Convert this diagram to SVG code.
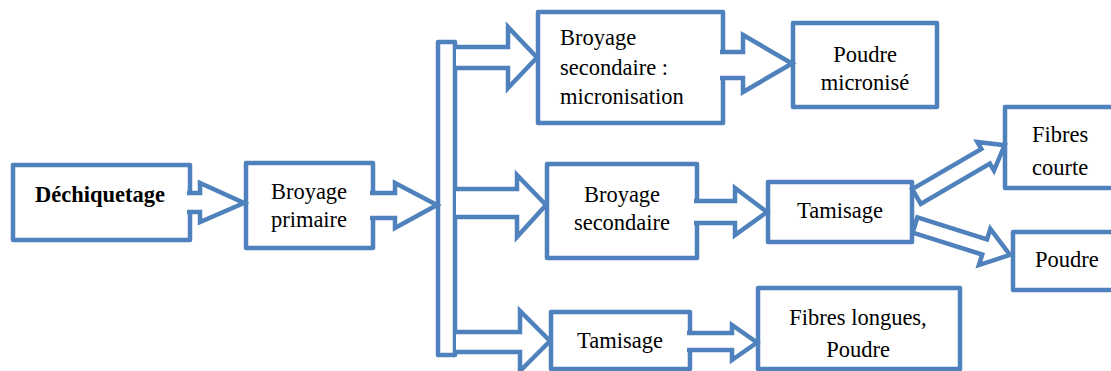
<svg xmlns="http://www.w3.org/2000/svg" width="1111" height="371" viewBox="0 0 1111 371">
<style>
.box{fill:#fff;stroke:#4f81bd;stroke-width:4.5;stroke-linejoin:round}
.arr{fill:#fff;stroke:#4f81bd;stroke-width:4.5;stroke-linejoin:miter}
.lbl{font-family:'Liberation Serif','Times New Roman',serif;font-size:22.5px;fill:#000}
</style>
<rect width="1111" height="371" fill="#fff"/>
<g id="nodes">
<g id="n1"><rect class="box" x="13" y="165" width="177" height="75"/></g>
<g id="n2"><rect class="box" x="246" y="163" width="127" height="85"/></g>
<g id="bar"><rect class="box" x="438" y="42" width="17" height="313"/></g>
<g id="n3"><rect class="box" x="538" y="12" width="185" height="111"/></g>
<g id="n4"><rect class="box" x="793" y="23" width="144" height="84"/></g>
<g id="n5"><rect class="box" x="547" y="164" width="150" height="94"/></g>
<g id="n6"><rect class="box" x="768" y="182" width="144" height="60"/></g>
<g id="n7"><rect class="box" x="1005" y="107" width="120" height="81"/></g>
<g id="n8"><rect class="box" x="1013" y="232" width="112" height="58"/></g>
<g id="n9"><rect class="box" x="551" y="312" width="139" height="57"/></g>
<g id="n10"><rect class="box" x="758" y="288" width="202" height="81"/></g>
</g>
<g id="connectors">
<path class="arr" d="M187,193 L200,193 L200,183 L244,203 L200,222 L200,212 L187,212"/>
<path class="arr" d="M370,193 L395,193 L395,183 L437,205 L395,228 L395,218 L370,218"/>
<path class="arr" d="M456,47 L508,47 L508,27 L537,57.5 L508,88 L508,68 L456,68"/>
<path class="arr" d="M720,52 L743,52 L743,35 L792,63.5 L743,92 L743,78 L720,78"/>
<path class="arr" d="M456,189 L517,189 L517,175 L546,205 L517,237 L517,217 L456,217"/>
<path class="arr" d="M694,201 L735,201 L735,188 L767,212 L735,235 L735,223 L694,223"/>
<path class="arr" d="M456,332 L520,332 L520,311 L550,341 L520,371 L520,352 L456,352"/>
<path class="arr" d="M687,333 L732,333 L732,325 L757,342.5 L732,360 L732,350 L687,350"/>
<polygon class="arr" transform="translate(916.5,196.5) rotate(-30.2)" points="0,-8.5 80,-8.5 80,-16.5 102,0 80,16.5 80,8.5 0,8.5"/>
<polygon class="arr" transform="translate(915,225) rotate(17.5)" points="0,-8 73,-8 73,-19 99.6,0 73,19 73,8 0,8"/>
</g>
<g id="labels" font-family="Liberation Serif, Times New Roman, serif" font-size="22.5">
<text class="lbl" x="100" y="202" text-anchor="middle" font-weight="bold">Déchiquetage</text>
<text class="lbl" x="309" y="199" text-anchor="middle">Broyage</text>
<text class="lbl" x="309" y="227" text-anchor="middle">primaire</text>
<text class="lbl" x="560" y="45">Broyage</text>
<text class="lbl" x="560" y="75">secondaire :</text>
<text class="lbl" x="560" y="104">micronisation</text>
<text class="lbl" x="865" y="62" text-anchor="middle">Poudre</text>
<text class="lbl" x="865" y="90" text-anchor="middle">micronisé</text>
<text class="lbl" x="622" y="202" text-anchor="middle">Broyage</text>
<text class="lbl" x="622" y="230" text-anchor="middle">secondaire</text>
<text class="lbl" x="840" y="218" text-anchor="middle">Tamisage</text>
<text class="lbl" x="1032" y="142">Fibres</text>
<text class="lbl" x="1032" y="175">courte</text>
<text class="lbl" x="1035" y="267">Poudre</text>
<text class="lbl" x="620" y="348" text-anchor="middle">Tamisage</text>
<text class="lbl" x="858" y="325" text-anchor="middle">Fibres longues,</text>
<text class="lbl" x="858" y="357" text-anchor="middle">Poudre</text>
</g>
</svg>
